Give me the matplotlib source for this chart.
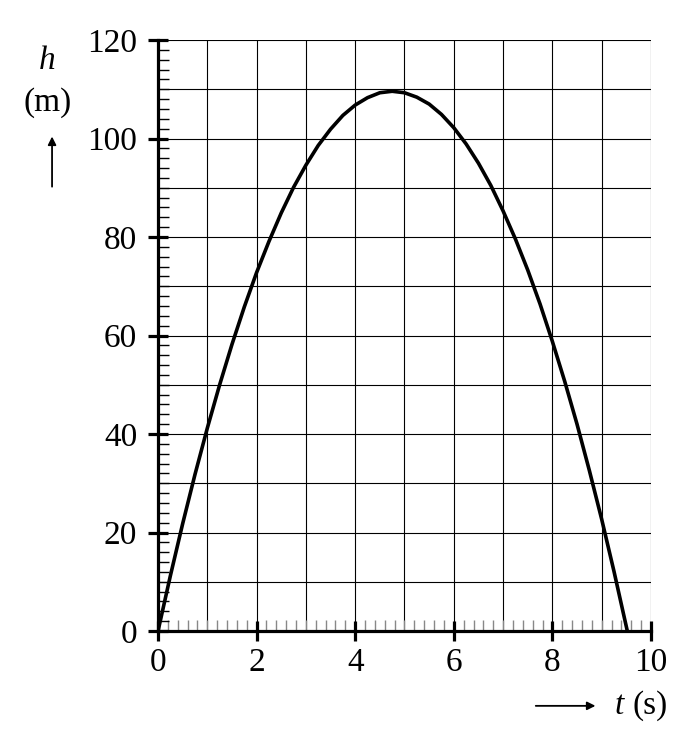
import matplotlib.pyplot as plt
from matplotlib.ticker import MultipleLocator

t = [0, 0.25, 0.5, 0.75, 1.0, 1.25, 1.5, 1.75, 2.0, 2.25, 2.5, 2.75, 3.0,
     3.25, 3.5, 3.75, 4.0, 4.25, 4.5, 4.75, 5.0, 5.25, 5.5, 5.75, 6.0,
     6.25, 6.5, 6.75, 7.0, 7.25, 7.5, 7.75, 8.0, 8.25, 8.5, 8.75, 9.0,
     9.25, 9.5, 9.52]
h = [0, 11.2, 21.8, 31.8, 41.2, 50.0, 58.2, 65.8, 72.8, 79.1, 84.9, 90.1,
     94.6, 98.6, 101.9, 104.7, 106.8, 108.3, 109.3, 109.6, 109.3, 108.4,
     107.0, 104.9, 102.2, 98.9, 95.0, 90.5, 85.3, 79.6, 73.3, 66.4, 58.8,
     50.7, 42.0, 32.6, 22.7, 12.1, 0.9, 0]

plt.rcParams['font.family'] = ['Liberation Serif', 'DejaVu Serif']

fig = plt.figure(figsize=(6.94, 7.43), dpi=100)
ax = fig.add_axes([0.2277, 0.1507, 0.7103, 0.7954])

ax.set_xlim(0, 10)
ax.set_ylim(0, 120)

for x in range(1, 11):
    ax.axvline(x, color='black', lw=0.8, zorder=1)
for y in range(10, 121, 10):
    ax.axhline(y, color='black', lw=0.8, zorder=1)

ax.plot(t, h, color='black', lw=2.6, zorder=3, solid_capstyle='butt',
        solid_joinstyle='round')

ax.spines['top'].set_visible(False)
ax.spines['right'].set_visible(False)
ax.spines['left'].set_linewidth(2.3)
ax.spines['bottom'].set_linewidth(2.3)

ax.xaxis.set_major_locator(MultipleLocator(2))
ax.xaxis.set_minor_locator(MultipleLocator(0.2))
ax.yaxis.set_major_locator(MultipleLocator(20))
ax.yaxis.set_minor_locator(MultipleLocator(2))

ax.tick_params(which='major', direction='inout', length=14, width=2.3,
               labelsize=24, color='black')
ax.tick_params(axis='x', which='major', pad=5)
ax.tick_params(axis='y', which='major', pad=8)
ax.tick_params(axis='y', which='minor', direction='in', length=8, width=1.0,
               color='black')
ax.tick_params(axis='x', which='minor', direction='in', length=8, width=1.0,
               color='#888888')

fig.text(0.068, 0.918, 'h', fontsize=24, style='italic', ha='center', va='center')
fig.text(0.068, 0.862, '(m)', fontsize=24, ha='center', va='center')
fig.add_artist(plt.Annotation('', xy=(0.075, 0.82), xytext=(0.075, 0.745),
                              xycoords='figure fraction',
                              arrowprops=dict(arrowstyle='-|>', color='black',
                                              lw=1.3, mutation_scale=12)))

fig.text(0.885, 0.05, 't', fontsize=24, style='italic', ha='left', va='center')
fig.text(0.912, 0.05, '(s)', fontsize=24, ha='left', va='center')
fig.add_artist(plt.Annotation('', xy=(0.862, 0.05), xytext=(0.768, 0.05),
                              xycoords='figure fraction',
                              arrowprops=dict(arrowstyle='-|>', color='black',
                                              lw=1.3, mutation_scale=12)))

fig.savefig('out.png', dpi=100)
